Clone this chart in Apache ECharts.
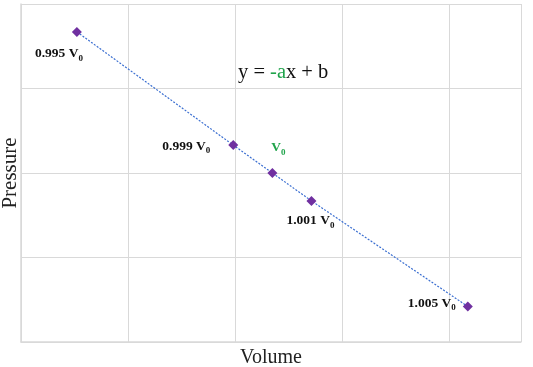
<!DOCTYPE html>
<html>
<head>
<meta charset="utf-8">
<script src="https://cdn.jsdelivr.net/npm/echarts@6/dist/echarts.min.js"></script>
<style>
  html, body { margin: 0; padding: 0; background: #fff; }
  #chart { width: 533px; height: 367px; }
</style>
</head>
<body>
<div id="chart"></div>
<script>
// volume in units of V0, pressure in arbitrary units (grid rows)
const volumes = [0.995, 0.999, 1.000, 1.001, 1.005];
const pressures = [3.67, 2.33, 2.0, 1.67, 0.42];
const pointLabels = ["0.995", "0.999", "", "1.001", "1.005"];

// label offsets from each marker (style, not data)
const labelOffsets = [[-18, 22], [-47, 1], [6, -25], [-1, 20], [-36, -3]];

const serif = "'Liberation Serif', 'Times New Roman', serif";
const green = "#1fa34a";

const chart = echarts.init(document.getElementById("chart"));

const points = volumes.map((v, i) => ({
  value: [v, pressures[i]],
  label: {
    offset: labelOffsets[i],
    formatter: pointLabels[i] ? "{v|" + pointLabels[i] + " V}{s|0}" : "{gv|V}{gs|0}",
  },
}));

const subStyle = (color) => ({
  fontSize: 9, fontWeight: "bold", fontFamily: serif, color: color,
  verticalAlign: "bottom", lineHeight: 18,
});
const mainStyle = (color) => ({
  fontSize: 13.5, fontWeight: "bold", fontFamily: serif, color: color,
  verticalAlign: "middle", lineHeight: 18,
});

chart.setOption({
  animation: false,
  grid: { left: 21, right: 12, top: 4, bottom: 25, outerBoundsMode: "none", containLabel: false },
  xAxis: [
    {
      type: "value", min: 0.99357, max: 1.00636,
      axisLine: { show: false }, axisTick: { show: false },
      axisLabel: { show: false }, splitLine: { show: false },
      name: "Volume", nameLocation: "middle", nameGap: 6,
      nameTextStyle: { fontFamily: serif, fontSize: 20, color: "#222" },
    },
    {
      type: "value", min: 0, max: 4.67, interval: 1, position: "bottom",
      axisLine: { show: true, lineStyle: { color: "#d9d9d9", width: 1.5 } },
      axisTick: { show: false }, axisLabel: { show: false },
      splitLine: { show: true, lineStyle: { color: "#d9d9d9", width: 1 } },
    },
  ],
  yAxis: {
    type: "value", min: 0, max: 4, interval: 1,
    axisLine: { show: true, lineStyle: { color: "#d9d9d9", width: 1.5 } },
    axisTick: { show: false }, axisLabel: { show: false },
    splitLine: { show: true, lineStyle: { color: "#d9d9d9", width: 1 } },
    name: "Pressure", nameLocation: "middle", nameGap: 0,
    nameTextStyle: { fontFamily: serif, fontSize: 21, color: "#222" },
  },
  graphic: [
    {
      type: "text", left: 238, top: 62,
      style: {
        text: "{a|y = }{g|-a}{a|x + b}",
        rich: {
          a: { fontFamily: serif, fontSize: 20.5, fill: "#111", color: "#111" },
          g: { fontFamily: serif, fontSize: 20.5, fill: green, color: green },
        },
      },
    },
  ],
  series: [
    {
      type: "line",
      xAxisIndex: 0,
      data: points,
      symbol: "diamond",
      symbolSize: 10,
      itemStyle: { color: "#7030a0" },
      lineStyle: { color: "#3b6fd1", width: 1.2, type: [2, 1.5] },
      label: {
        show: true, position: "inside",
        rich: {
          v: mainStyle("#111"), s: subStyle("#111"),
          gv: mainStyle(green), gs: subStyle(green),
        },
      },
      z: 3,
    },
  ],
});
</script>
</body>
</html>
